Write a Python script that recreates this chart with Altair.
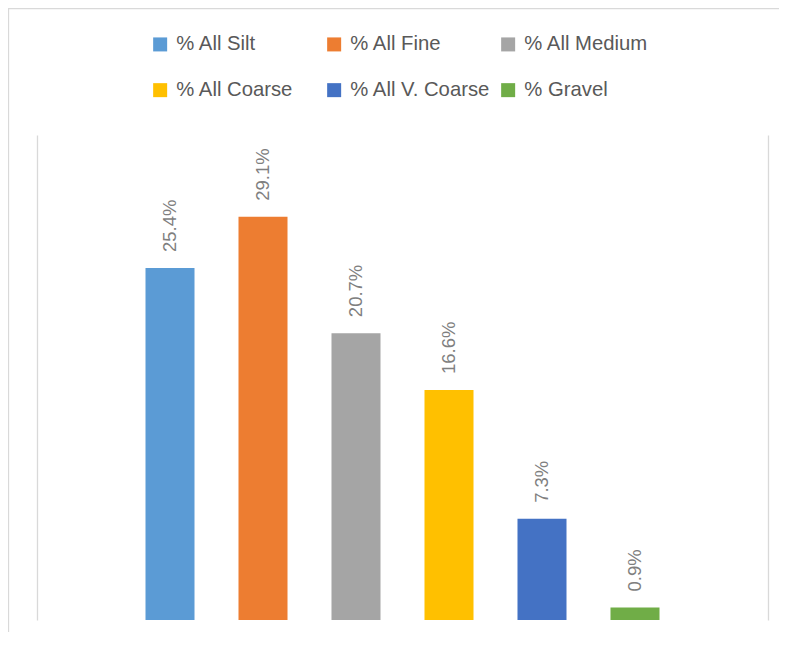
import altair as alt
import pandas as pd

series = ["% All Silt", "% All Fine", "% All Medium", "% All Coarse", "% All V. Coarse", "% Gravel"]
values = [25.4, 29.1, 20.7, 16.6, 7.3, 0.9]
colors = ["#5B9BD5", "#ED7D31", "#A5A5A5", "#FFC000", "#4472C4", "#70AD47"]

df = pd.DataFrame({"series": series, "value": values})
df["label"] = [f"{v:.1f}%" for v in values]

FONT = "Liberation Sans"

x_enc = alt.X("series:N", sort=series, axis=None,
              scale=alt.Scale(range=[108.5, 622.5], paddingInner=0.473, paddingOuter=0))
y_scale = alt.Scale(domain=[0, 35], nice=False, zero=True)

base = alt.Chart(df)

bars = base.mark_bar().encode(
    x=x_enc,
    y=alt.Y("value:Q", scale=y_scale,
            axis=alt.Axis(orient="left", labels=False, ticks=False, grid=False, title=None,
                          domain=True, domainColor="#D9D9D9", domainWidth=1.3)),
    color=alt.Color("series:N", sort=series,
                    scale=alt.Scale(domain=series, range=colors),
                    legend=alt.Legend(orient="none", legendX=113, legendY=-101, columns=3,
                                      direction="horizontal", gridAlign="all",
                                      columnPadding=7, rowPadding=25,
                                      symbolType="square", symbolSize=196, symbolStrokeWidth=0,
                                      symbolOpacity=1, labelFont=FONT, labelFontSize=20.3,
                                      labelColor="#595959", labelOffset=6, labelLimit=300,
                                      title=None)),
)

labels = base.mark_text(angle=270, align="left", baseline="middle", dx=16,
                        font=FONT, fontSize=18.5, color="#7F7F7F").encode(
    x=x_enc,
    y=alt.Y("value:Q", scale=y_scale,
            axis=alt.Axis(orient="right", labels=False, ticks=False, grid=False, title=None,
                          domain=True, domainColor="#D9D9D9", domainWidth=1.3)),
    text="label:N",
)

border = alt.Chart(pd.DataFrame({"k": [0]})).mark_rect(
    fill="transparent", stroke="#D9D9D9", strokeWidth=1.3
).encode(x=alt.value(-28.5), x2=alt.value(800), y=alt.value(-126.5), y2=alt.value(700))

chart = alt.layer(border, bars, labels).resolve_axis(y="independent").properties(
    width=731, height=485,
    autosize=alt.AutoSizeParams(type="none"),
    padding={"left": 29, "top": 127, "right": 11, "bottom": 12},
    background="white",
).configure_view(stroke="transparent")

chart.save("out.html", embed_options={"renderer": "svg", "actions": False})
